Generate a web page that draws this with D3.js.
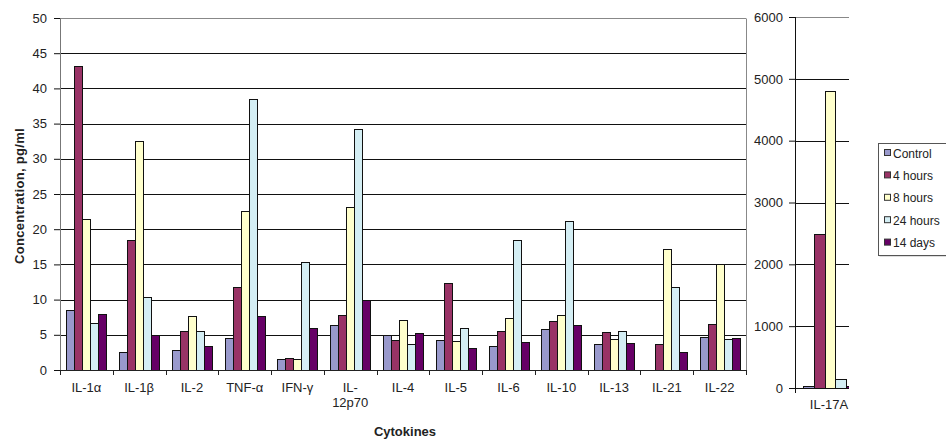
<!DOCTYPE html>
<html>
<head>
<meta charset="utf-8">
<script src="https://cdn.jsdelivr.net/npm/d3@7"></script>
<style>
  html, body { margin: 0; padding: 0; background: #fff; }
  svg { display: block; font-family: "Liberation Sans", Arial, sans-serif; }
</style>
</head>
<body>
<svg id="chart" width="946" height="441"></svg>
<script>
// Cytokine concentrations (pg/ml) by time point
const series = ["Control", "4 hours", "8 hours", "24 hours", "14 days"];
const colors = ["#9999cc", "#993366", "#ffffcc", "#d4eef4", "#660066"];

const categories = ["IL-1α", "IL-1β", "IL-2", "TNF-α", "IFN-γ", "IL-12p70",
                    "IL-4", "IL-5", "IL-6", "IL-10", "IL-13", "IL-21", "IL-22"];

const control  = [8.5, 2.5, 2.8, 4.6, 1.5, 6.4, 5.0, 4.3, 3.4, 5.8, 3.65, null, 4.7];
const hours4   = [43.2, 18.5, 5.5, 11.8, 1.65, 7.8, 4.3, 12.3, 5.6, 7.0, 5.35, 3.7, 6.5];
const hours8   = [21.5, 32.5, 7.6, 22.6, 1.5, 23.1, 7.1, 4.1, 7.4, 7.8, 4.4, 17.2, 15.0];
const hours24  = [6.7, 10.4, 5.5, 38.5, 15.3, 34.3, 3.65, 5.9, 18.5, 21.2, 5.5, 11.8, 4.4];
const days14   = [7.9, 5.0, 3.4, 7.6, 5.9, 9.9, 5.2, 3.1, 4.0, 6.4, 3.8, 2.5, 4.6];

// IL-17A is plotted on its own secondary scale
const il17Category = ["IL-17A"];
const il17Values = [35, 2490, 4800, 150, 35];

const leftTicks = [0, 5, 10, 15, 20, 25, 30, 35, 40, 45, 50];
const rightTicks = [0, 1000, 2000, 3000, 4000, 5000, 6000];

const seriesValues = [control, hours4, hours8, hours24, days14];

const svg = d3.select("#chart");
const crisp = v => Math.round(v) + 0.5;

// ---------- main panel ----------
const L = { x0: 60, x1: 746, top: 18, bottom: 370 };

const x = d3.scaleBand().domain(categories).range([L.x0, L.x1]).padding(0);
const xs = d3.scaleBand().domain(series).range([0, x.bandwidth()])
  .paddingInner(0).paddingOuter(0.8);
const y = d3.scaleLinear().domain([0, 50]).range([L.bottom, L.top]);

// gridlines
svg.append("g").selectAll("line").data(leftTicks.filter(t => t > 0)).join("line")
  .attr("x1", L.x0).attr("x2", L.x1)
  .attr("y1", d => crisp(y(d))).attr("y2", d => crisp(y(d)))
  .attr("stroke", d => d === 50 ? "#888" : "#111").attr("stroke-width", 1);

// right border of plot area
svg.append("line")
  .attr("x1", crisp(L.x1)).attr("x2", crisp(L.x1))
  .attr("y1", crisp(y(50))).attr("y2", L.bottom)
  .attr("stroke", "#888");

// bars
const rows = [];
categories.forEach((c, i) => {
  series.forEach((s, j) => {
    const v = seriesValues[j][i];
    if (v != null) rows.push({ c, s, v, j });
  });
});
svg.append("g").selectAll("rect").data(rows).join("rect")
  .attr("x", d => Math.round(x(d.c) + xs(d.s)) + 0.5)
  .attr("width", d => Math.round(x(d.c) + xs(d.s) + xs.bandwidth()) - Math.round(x(d.c) + xs(d.s)))
  .attr("y", d => crisp(y(d.v)))
  .attr("height", d => crisp(y(0)) - crisp(y(d.v)))
  .attr("fill", d => colors[d.j])
  .attr("stroke", "#111").attr("stroke-width", 1);

// left axis
const yAxis = d3.axisLeft(y).tickValues(leftTicks).tickSize(6).tickPadding(7);
const gy = svg.append("g").attr("transform", `translate(${L.x0},0)`).call(yAxis);
gy.select(".domain").attr("stroke", "#777").attr("d", `M0.5,${y(50)}V${L.bottom}`);
gy.selectAll(".tick line").attr("stroke", "#111");
gy.selectAll(".tick text").attr("font-size", 13).attr("fill", "#222")
  .attr("font-family", "Liberation Sans, Arial, sans-serif");

// bottom axis: line plus tick marks at category boundaries
svg.append("line")
  .attr("x1", L.x0).attr("x2", L.x1)
  .attr("y1", crisp(L.bottom)).attr("y2", crisp(L.bottom))
  .attr("stroke", "#222");
const bounds = categories.map(c => x(c)).concat([L.x1]);
svg.append("g").selectAll("line").data(bounds).join("line")
  .attr("x1", d => crisp(d)).attr("x2", d => crisp(d))
  .attr("y1", L.bottom).attr("y2", L.bottom + 5)
  .attr("stroke", "#222");

// category labels (long names wrap at the hyphen)
const labelG = svg.append("g").attr("font-size", 13).attr("fill", "#222")
  .attr("text-anchor", "middle");
categories.forEach(c => {
  const t = labelG.append("text")
    .attr("x", x(c) + x.bandwidth() / 2)
    .attr("y", 392);
  if (c.length > 6) {
    const parts = c.split("-");
    t.append("tspan").attr("x", x(c) + x.bandwidth() / 2).text(parts[0] + "-");
    t.append("tspan").attr("x", x(c) + x.bandwidth() / 2).attr("dy", 15).text(parts[1]);
  } else {
    t.text(c);
  }
});

// axis titles
svg.append("text")
  .attr("transform", `translate(24,${(L.top + L.bottom) / 2 + 2}) rotate(-90)`)
  .attr("text-anchor", "middle").attr("font-size", 13).attr("font-weight", "bold")
  .attr("letter-spacing", 0.3)
  .attr("fill", "#222")
  .text("Concentration, pg/ml");

svg.append("text")
  .attr("x", 405).attr("y", 436)
  .attr("text-anchor", "middle").attr("font-size", 13).attr("font-weight", "bold")
  .attr("fill", "#222")
  .text("Cytokines");

// ---------- IL-17A panel ----------
const R = { x0: 795, clip: 849, bandEnd: 865, top: 17, bottom: 388 };

const rx = d3.scaleBand().domain(il17Category).range([R.x0, R.bandEnd]).padding(0);
const rxs = d3.scaleBand().domain(series).range([0, rx.bandwidth()])
  .paddingInner(0).paddingOuter(0.8);
const ry = d3.scaleLinear().domain([0, 6000]).range([R.bottom, R.top]);

svg.append("defs").append("clipPath").attr("id", "rclip")
  .append("rect").attr("x", R.x0).attr("y", 0)
  .attr("width", R.clip - R.x0).attr("height", R.bottom + 1);

svg.append("g").selectAll("line").data(rightTicks.filter(t => t > 0)).join("line")
  .attr("x1", R.x0).attr("x2", R.clip)
  .attr("y1", d => crisp(ry(d))).attr("y2", d => crisp(ry(d)))
  .attr("stroke", d => d === 6000 ? "#888" : "#111");

const rRows = series.map((s, j) => ({ c: il17Category[0], s, v: il17Values[j], j }));
svg.append("g").attr("clip-path", "url(#rclip)")
  .selectAll("rect").data(rRows).join("rect")
  .attr("x", d => Math.round(rx(d.c) + rxs(d.s)) + 0.5)
  .attr("width", d => Math.round(rx(d.c) + rxs(d.s) + rxs.bandwidth()) - Math.round(rx(d.c) + rxs(d.s)))
  .attr("y", d => crisp(ry(d.v)))
  .attr("height", d => crisp(ry(0)) - crisp(ry(d.v)))
  .attr("fill", d => colors[d.j])
  .attr("stroke", "#111");

const ryAxis = d3.axisLeft(ry).tickValues(rightTicks).tickFormat(d3.format("d"))
  .tickSize(6).tickPadding(6);
const gry = svg.append("g").attr("transform", `translate(${R.x0},0)`).call(ryAxis);
gry.select(".domain").attr("stroke", "#111").attr("d", `M0.5,${ry(6000)}V${R.bottom + 5}`);
gry.selectAll(".tick line").attr("stroke", "#111");
gry.selectAll(".tick text").attr("font-size", 13).attr("fill", "#222")
  .attr("font-family", "Liberation Sans, Arial, sans-serif");

svg.append("line")
  .attr("x1", R.x0).attr("x2", R.clip)
  .attr("y1", crisp(R.bottom)).attr("y2", crisp(R.bottom))
  .attr("stroke", "#111");

svg.append("text")
  .attr("x", rx(il17Category[0]) + rx.bandwidth() / 2 - 1).attr("y", 409)
  .attr("text-anchor", "middle").attr("font-size", 13).attr("fill", "#222")
  .text(il17Category[0]);

// ---------- legend ----------
const lg = svg.append("g").attr("transform", "translate(878,143)");
lg.append("rect").attr("x", 1.5).attr("y", 1.5).attr("width", 80).attr("height", 112)
  .attr("fill", "#bbb");
lg.append("rect").attr("x", 0.5).attr("y", 0.5).attr("width", 80).attr("height", 112)
  .attr("fill", "#fff").attr("stroke", "#555");
const item = lg.selectAll("g.item").data(series).join("g").attr("class", "item")
  .attr("transform", (d, i) => `translate(0,${10 + i * 22.4})`);
item.append("rect").attr("x", 6.5).attr("y", -3.5).attr("width", 6).attr("height", 6)
  .attr("fill", (d, i) => colors[i]).attr("stroke", "#333");
item.append("text").attr("x", 15).attr("y", 4.5).attr("font-size", 12).attr("fill", "#222")
  .text(d => d);
</script>
</body>
</html>
